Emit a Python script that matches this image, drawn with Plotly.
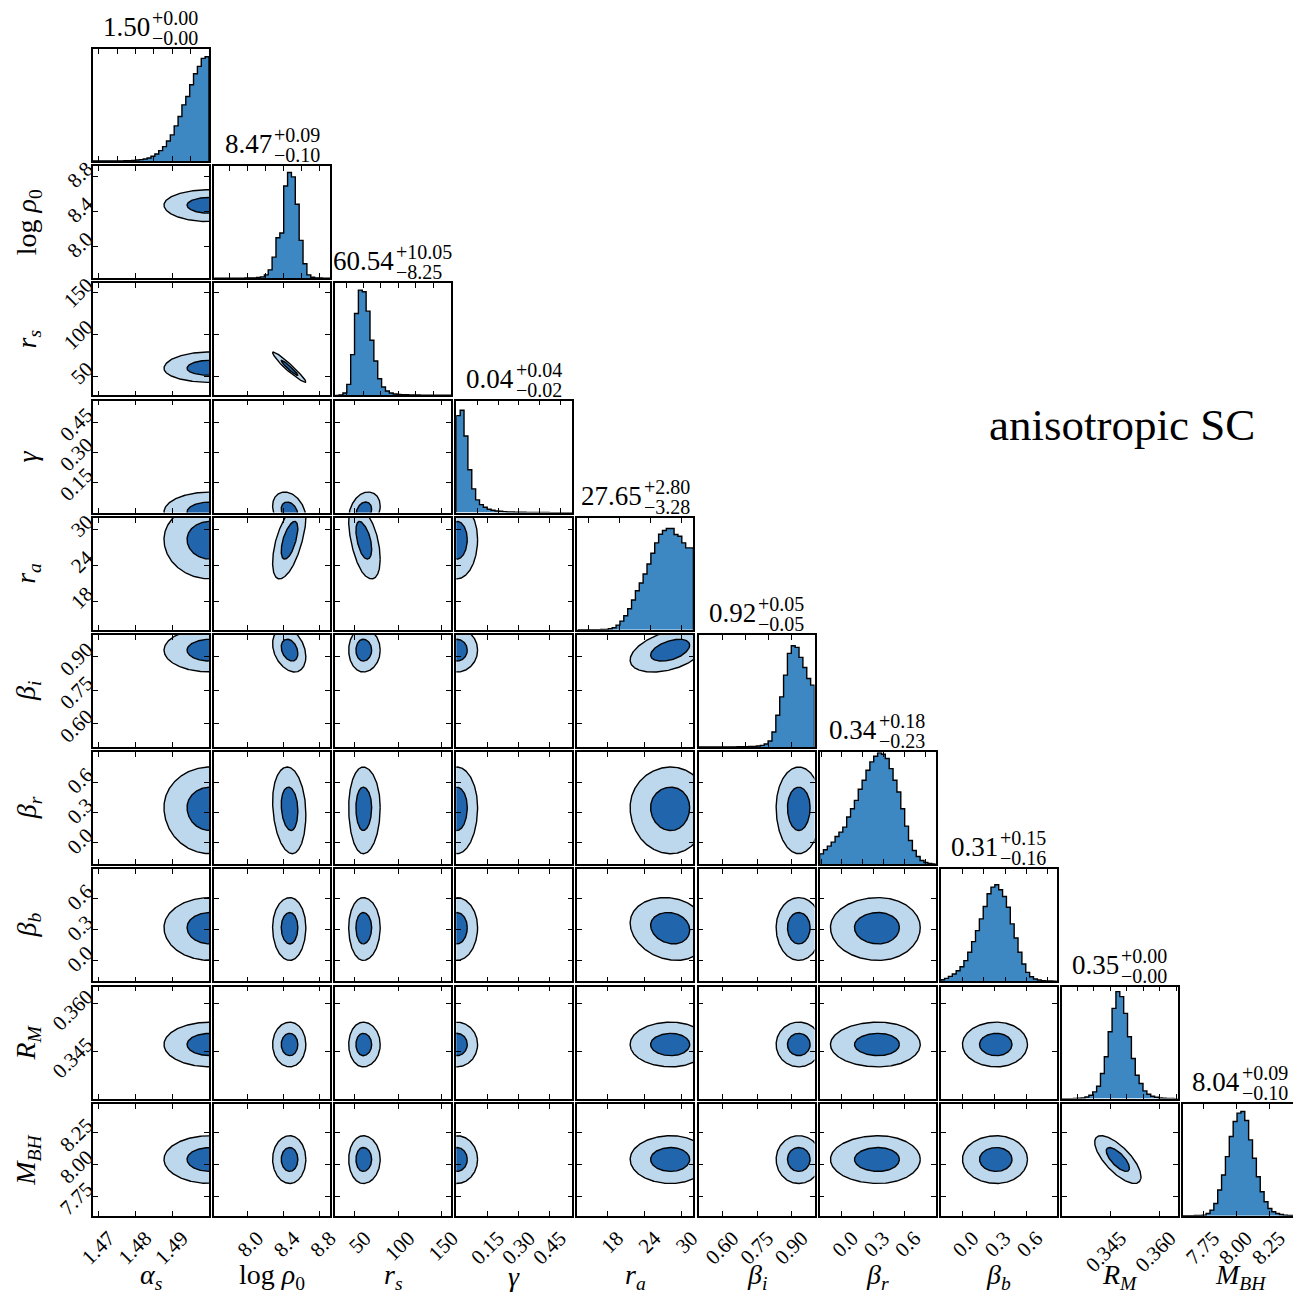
import numpy as np
import plotly.graph_objects as go

# ---------------- data ----------------
PARAM_LABELS = ["<i>α</i><sub><i>s</i></sub>", "log <i>ρ</i><sub>0</sub>", "<i>r</i><sub><i>s</i></sub>",
                "<i>γ</i>", "<i>r</i><sub><i>a</i></sub>", "<i>β</i><sub><i>i</i></sub>",
                "<i>β</i><sub><i>r</i></sub>", "<i>β</i><sub><i>b</i></sub>",
                "<i>R</i><sub><i>M</i></sub>", "<i>M</i><sub><i>BH</i></sub>"]

AXIS_RANGES = [[1.4684, 1.5001], [7.636, 8.913], [27.4, 160.7], [-0.003, 0.558], [13.2, 31.9],
               [0.496, 0.998], [-0.214, 0.897], [-0.204, 0.884], [0.33036, 0.36543], [7.596, 8.477]]

LABEL_TICKS = [[1.47, 1.48, 1.49], [8.0, 8.4, 8.8], [50, 100, 150], [0.15, 0.30, 0.45], [18, 24, 30],
               [0.60, 0.75, 0.90], [0.0, 0.3, 0.6], [0.0, 0.3, 0.6], [0.345, 0.360], [7.75, 8.00, 8.25]]
TICK_FORMATS = [".2f", ".1f", "d", ".2f", "d", ".2f", ".1f", ".1f", ".3f", ".2f"]
HIST_DTICK = [0.005, 0.2, 20, 0.1, 5, 0.1, 0.2, 0.2, 0.005, 0.25]

MEDIANS = ["1.50", "8.47", "60.54", "0.04", "27.65", "0.92", "0.34", "0.31", "0.35", "8.04"]
ERR_PLUS = ["0.00", "0.09", "10.05", "0.04", "2.80", "0.05", "0.18", "0.15", "0.00", "0.09"]
ERR_MINUS = ["0.00", "0.10", "8.25", "0.02", "3.28", "0.05", "0.23", "0.16", "0.00", "0.10"]

# 1D marginal histograms (30 bins across each axis range, arbitrary height units)
HIST_ALPHA_S = [0.5, 0.5, 0.5, 0.5, 0.5, 0.5, 0.5, 0.5, 1, 1, 2, 3, 4, 6, 9, 14, 21, 31, 43, 60,
                78, 105, 133, 168, 193, 228, 261, 283, 307, 312]
HIST_LOG_RHO0 = [0, 0, 0, 0, 0, 0, 0, 0, 0.5, 1, 1, 2, 4, 10, 25, 63, 121, 135, 276, 316,
                 303, 221, 113, 43, 10, 3, 1, 0.5, 0, 0]
HIST_R_S = [0, 1, 7, 33, 122, 245, 315, 310, 252, 165, 103, 50, 25, 13, 7, 4, 3, 2, 2, 1,
            1, 1, 0.5, 0.5, 0.5, 0.5, 0.5, 0.5, 0.5, 0.5]
HIST_GAMMA = [290, 306, 229, 128, 71, 38, 24, 16, 10, 7, 5, 4, 3, 2, 2, 1, 1, 1, 0.5, 0.5,
              0.5, 0.5, 0.5, 0.5, 0, 0, 0, 0, 0, 0]
HIST_R_A = [0, 0, 0, 0, 0.5, 0.5, 1, 1, 3, 6, 14, 26, 42, 63, 89, 117, 140, 167, 197, 229,
            260, 286, 297, 303, 303, 285, 280, 260, 245, 245]
HIST_BETA_I = [0, 0, 0, 0, 0, 0, 0, 0, 0.5, 0.5, 1, 1, 1, 2, 2, 3, 5, 9, 18, 45,
               95, 150, 215, 280, 303, 298, 268, 238, 205, 185]
HIST_BETA_R = [31, 43, 54, 66, 83, 96, 111, 141, 166, 191, 224, 251, 281, 306, 323, 333, 329, 316, 286, 251,
               216, 166, 114, 71, 41, 23, 11, 5, 2, 1]
HIST_BETA_B = [5, 9, 15, 22, 32, 44, 62, 87, 119, 152, 187, 224, 262, 282, 289, 274, 254, 222, 172, 130,
               87, 52, 27, 14, 7, 4, 2, 1, 1, 0.5]
HIST_R_M = [0, 0, 0, 0.5, 1, 2, 5, 10, 20, 37, 75, 125, 200, 270, 320, 305, 255, 185, 120, 70,
            45, 23, 13, 7, 4, 2, 1, 0.5, 0.5, 0]
HIST_M_BH = [0, 0, 0.5, 1, 1, 2, 7, 17, 37, 77, 122, 177, 237, 282, 307, 312, 285, 227, 172, 117,
             72, 42, 22, 12, 7, 4, 2, 1, 1, 0.5]
HISTS = [HIST_ALPHA_S, HIST_LOG_RHO0, HIST_R_S, HIST_GAMMA, HIST_R_A, HIST_BETA_I,
         HIST_BETA_R, HIST_BETA_B, HIST_R_M, HIST_M_BH]
HIST_TOP = 335

# 2D contour description: centre and lower/upper 1-sigma widths per parameter
CONT_CENTER = [1.5004, 8.47, 59.5, 0.0, 28.3, 0.93, 0.35, 0.32, 0.3473, 8.04]
CONT_SIG_LO = [0.0063, 0.095, 8.3, 0.05, 3.3, 0.049, 0.23, 0.16, 0.0035, 0.095]
CONT_SIG_HI = [0.0063, 0.088, 9.8, 0.05, 3.0, 0.049, 0.20, 0.145, 0.0035, 0.093]
# correlation for (x-param, y-param) pairs
PAIR_X = [1, 8, 4, 1, 2, 1, 2, 1, 1, 4]
PAIR_Y = [2, 9, 5, 4, 4, 3, 3, 5, 6, 7]
PAIR_RHO = [-0.96, -0.72, 0.45, 0.6, -0.5, -0.3, 0.3, -0.3, -0.15, -0.15]
CONTOUR_LEVELS = [2.0, 1.0]   # outer, inner (in sigma)

# ---------------- styling ----------------
N = 10
PAGE_OFF = 8                      # browser body margin
W, H = 1301 - PAGE_OFF, 1306 - PAGE_OFF
COL_X0, COL_PITCH, PANEL_W = 93, 121.1, 116
ROW_Y0, ROW_PITCH, PANEL_H = 49, 117.2, 112
FONT = "Liberation Serif"
HIST_COLOR = "#3d88c2"
OUTER_COLOR = "#bdd7ec"
INNER_COLOR = "#2166ac"
MAIN_FS, SCRIPT_FS = 27, 20

rho_map = {(a, b): r for a, b, r in zip(PAIR_X, PAIR_Y, PAIR_RHO)}

fig = go.Figure()
layout = dict(width=W, height=H, margin=dict(l=0, r=0, t=0, b=0, autoexpand=False),
              paper_bgcolor="white", plot_bgcolor="white", showlegend=False,
              font=dict(family=FONT, size=20, color="black"))
annotations = []


def fx(px):
    return (px - PAGE_OFF) / W


def fy(py):
    return 1 - (py - PAGE_OFF) / H


def px_dom_x(j):
    x0 = COL_X0 + COL_PITCH * j
    return [fx(x0), min(1.0, fx(x0 + PANEL_W))]


def px_dom_y(i):
    y0 = ROW_Y0 + ROW_PITCH * i
    return [max(0.0, fy(y0 + PANEL_H)), fy(y0)]


common_axis = dict(showgrid=False, zeroline=False, showline=True, linecolor="black", linewidth=1.6,
                   mirror="ticks", ticks="inside", ticklen=5, tickwidth=1.2, tickcolor="black",
                   automargin=False,
                   tickfont=dict(family=FONT, size=21, color="black"))

k = 0
for i in range(N):
    for j in range(i + 1):
        k += 1
        xa = "x" if k == 1 else f"x{k}"
        ya = "y" if k == 1 else f"y{k}"
        xkey = "xaxis" if k == 1 else f"xaxis{k}"
        ykey = "yaxis" if k == 1 else f"yaxis{k}"
        if i == j:
            # marginal histogram
            lo, hi = AXIS_RANGES[i]
            edges = np.linspace(lo, hi, len(HISTS[i]) + 1)
            hx = [edges[0]] + list(edges)
            hy = [0] + list(HISTS[i]) + [0]
            fig.add_trace(go.Scatter(x=hx, y=hy, mode="lines", line=dict(shape="hv", color="black", width=1.4),
                                     fill="tozeroy", fillcolor=HIST_COLOR, xaxis=xa, yaxis=ya,
                                     hoverinfo="skip"))
            xax = dict(common_axis, domain=px_dom_x(j), anchor=ya, range=AXIS_RANGES[i],
                       tick0=0, dtick=HIST_DTICK[i], tickformat=TICK_FORMATS[i],
                       showticklabels=(i == N - 1), tickangle=-45, ticklabelshift=10)
            yax = dict(common_axis, domain=px_dom_y(i), anchor=xa, range=[0, HIST_TOP],
                       ticks="", showticklabels=False)
            # title annotation
            top_px = ROW_Y0 + ROW_PITCH * i
            cx_px = COL_X0 + COL_PITCH * j + PANEL_W / 2
            main = MEDIANS[i]
            main_w = MAIN_FS * (0.5 * sum(c.isdigit() for c in main) + 0.25 * main.count("."))
            sc = max(ERR_PLUS[i], ERR_MINUS[i], key=len)
            scr_w = SCRIPT_FS * (0.564 + 0.5 * sum(c.isdigit() for c in sc) + 0.25)
            junction = cx_px + (main_w - scr_w) / 2
            annotations.append(dict(text=main, x=fx(junction), y=fy(top_px - 22), xref="paper",
                                    yref="paper", xanchor="right", yanchor="middle", showarrow=False,
                                    font=dict(family=FONT, size=MAIN_FS, color="black"), borderpad=0))
            annotations.append(dict(text="+" + ERR_PLUS[i], x=fx(junction), y=fy(top_px - 31),
                                    xref="paper", yref="paper", xanchor="left", yanchor="middle",
                                    showarrow=False, font=dict(family=FONT, size=SCRIPT_FS, color="black"),
                                    borderpad=0))
            annotations.append(dict(text="−" + ERR_MINUS[i], x=fx(junction), y=fy(top_px - 11),
                                    xref="paper", yref="paper", xanchor="left", yanchor="middle",
                                    showarrow=False, font=dict(family=FONT, size=SCRIPT_FS, color="black"),
                                    borderpad=0))
        else:
            rho = rho_map.get((j, i), 0.0)
            t = np.linspace(0, 2 * np.pi, 361)
            zx = np.cos(t)
            zy = rho * np.cos(t) + np.sqrt(1 - rho ** 2) * np.sin(t)
            for lev, col in zip(CONTOUR_LEVELS, [OUTER_COLOR, INNER_COLOR]):
                px_ = CONT_CENTER[j] + lev * zx * np.where(zx > 0, CONT_SIG_HI[j], CONT_SIG_LO[j])
                py_ = CONT_CENTER[i] + lev * zy * np.where(zy > 0, CONT_SIG_HI[i], CONT_SIG_LO[i])
                fig.add_trace(go.Scatter(x=px_, y=py_, mode="lines", fill="toself", fillcolor=col,
                                         line=dict(color="black", width=1.4), xaxis=xa, yaxis=ya,
                                         hoverinfo="skip"))
            xax = dict(common_axis, domain=px_dom_x(j), anchor=ya, range=AXIS_RANGES[j],
                       tickvals=LABEL_TICKS[j], tickformat=TICK_FORMATS[j],
                       showticklabels=(i == N - 1), tickangle=-45, ticklabelshift=10)
            yax = dict(common_axis, domain=px_dom_y(i), anchor=xa, range=AXIS_RANGES[i],
                       tickvals=LABEL_TICKS[i], tickformat=TICK_FORMATS[i],
                       showticklabels=(j == 0), tickangle=-45, ticklabelshift=-10)
        layout[xkey] = xax
        layout[ykey] = yax

# axis titles
for j in range(N):
    cx = COL_X0 + COL_PITCH * j + PANEL_W / 2
    annotations.append(dict(text=PARAM_LABELS[j], x=fx(cx), y=fy(1276), xref="paper", yref="paper",
                            xanchor="center", yanchor="middle", showarrow=False,
                            font=dict(family=FONT, size=28, color="black")))
for i in range(1, N):
    cy = ROW_Y0 + ROW_PITCH * i + PANEL_H / 2
    annotations.append(dict(text=PARAM_LABELS[i], x=fx(28), y=fy(cy), xref="paper", yref="paper",
                            xanchor="center", yanchor="middle", textangle=-90, showarrow=False,
                            font=dict(family=FONT, size=28, color="black")))

annotations.append(dict(text="anisotropic SC", x=fx(1122), y=fy(425), xref="paper", yref="paper",
                        xanchor="center", yanchor="middle", showarrow=False,
                        font=dict(family=FONT, size=45, color="black")))

layout["annotations"] = annotations
fig.update_layout(**layout)
fig.write_html("out.html")
